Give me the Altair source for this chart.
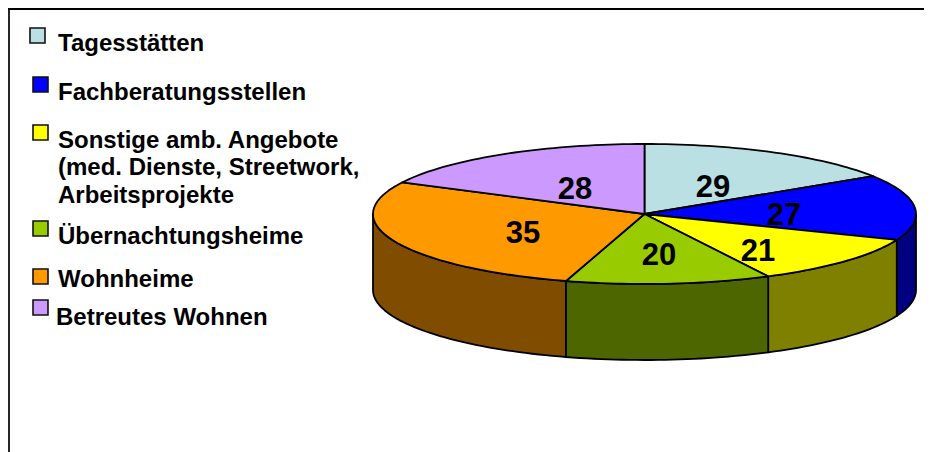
import math
import altair as alt
import pandas as pd

categories = ["Tagesstätten", "Fachberatungsstellen", "Sonstige", "Übernachtungsheime", "Wohnheime", "Betreutes Wohnen"]
values = [29, 27, 21, 20, 35, 28]
boundaries = [0, 57.3, 111.7, 152.9, 196.8, 296.9, 360]
top_colors = ["#BBE0E3", "#0000FF", "#FFFF00", "#99CC00", "#FF9900", "#CC99FF"]
side_colors = ["#5E7072", "#000080", "#808000", "#4D6600", "#804D00", "#664D80"]
legend_lines = ["Tagesstätten", "Fachberatungsstellen", "Sonstige amb. Angebote", "(med. Dienste, Streetwork,",
                "Arbeitsprojekte", "Übernachtungsheime", "Wohnheime", "Betreutes Wohnen"]

# layout
CX, CY, RX, RY, DEPTH = 644.5, 214, 271.5, 70, 76
line_x = [58, 58, 58, 58, 58, 58, 58, 56]
line_y = [51, 100, 148, 175, 203, 244, 287, 325]
swatch_x = [30, 33, 33, 33, 33, 33]
swatch_y = [28, 77, 125, 221, 269, 300]
label_x = [713, 784, 758, 659, 523, 575]
label_y = [197, 225, 261, 265, 243, 199]

xs = alt.Scale(domain=[8, 924], range=[0, 916], nice=False, zero=False)
ys = alt.Scale(domain=[8, 452], reverse=True, nice=False, zero=False)
X = lambda f="x": alt.X(f"{f}:Q", scale=xs, axis=None)
Y = lambda f="y": alt.Y(f"{f}:Q", scale=ys, axis=None)


def rim(a0, a1, dy=0):
    n = max(2, int(abs(a1 - a0) / 1.5))
    out = []
    for k in range(n + 1):
        t = math.radians(a0 + (a1 - a0) * k / n)
        out.append((CX + RX * math.sin(t), CY + dy - RY * math.cos(t)))
    return out


def poly(points, color, width=1.8):
    df = pd.DataFrame({"x": [p[0] for p in points], "y": [p[1] for p in points], "i": range(len(points))})
    return alt.Chart(df).mark_line(fill=color, stroke="#000000", strokeWidth=width, strokeJoin="round").encode(
        x=X(), y=Y(), order=alt.Order("i:Q"))


layers = []
# sides, back to front
for idx in [1, 4, 2, 3]:
    a0 = max(boundaries[idx], 90)
    a1 = min(boundaries[idx + 1], 270)
    pts = rim(a0, a1) + rim(a1, a0, DEPTH)
    pts.append(pts[0])
    layers.append(poly(pts, side_colors[idx]))
# top slices
for idx in range(6):
    pts = [(CX, CY)] + rim(boundaries[idx], boundaries[idx + 1]) + [(CX, CY)]
    layers.append(poly(pts, top_colors[idx]))

# frame
top = pd.DataFrame({"x": [8], "x2": [924], "y": [9]})
layers.append(alt.Chart(top).mark_rule(color="#000000", strokeWidth=2).encode(x=X(), x2="x2:Q", y=Y()))
left = pd.DataFrame({"x": [9], "y": [8], "y2": [452]})
layers.append(alt.Chart(left).mark_rule(color="#000000", strokeWidth=1.7).encode(x=X(), y=Y(), y2="y2:Q"))

# swatches
sw = pd.DataFrame({"x": swatch_x, "y": swatch_y, "c": top_colors})
sw["x2"] = sw["x"] + 15
sw["y2"] = sw["y"] + 15
layers.append(alt.Chart(sw).mark_rect(stroke="#111111", strokeWidth=1.6).encode(
    x=X(), x2="x2:Q", y=Y(), y2="y2:Q", fill=alt.Fill("c:N", scale=None)))

# legend text
lt = pd.DataFrame({"x": line_x, "y": line_y, "t": legend_lines})
layers.append(alt.Chart(lt).mark_text(font="Liberation Sans", fontWeight="bold", fontSize=24, align="left",
                                       baseline="alphabetic", color="#000000").encode(x=X(), y=Y(), text="t:N"))

# value labels
vt = pd.DataFrame({"x": label_x, "y": label_y, "t": values})
layers.append(alt.Chart(vt).mark_text(font="Liberation Sans", fontWeight="bold", fontSize=31, align="center",
                                       baseline="alphabetic", color="#000000").encode(x=X(), y=Y(), text="t:Q"))

chart = alt.layer(*layers).properties(
    width=916, height=444, padding=0, autosize=alt.AutoSizeParams(type="none"), background="#FFFFFF"
).configure_view(stroke=None)

chart.save("out.html", embed_options={"renderer": "svg", "actions": False})
